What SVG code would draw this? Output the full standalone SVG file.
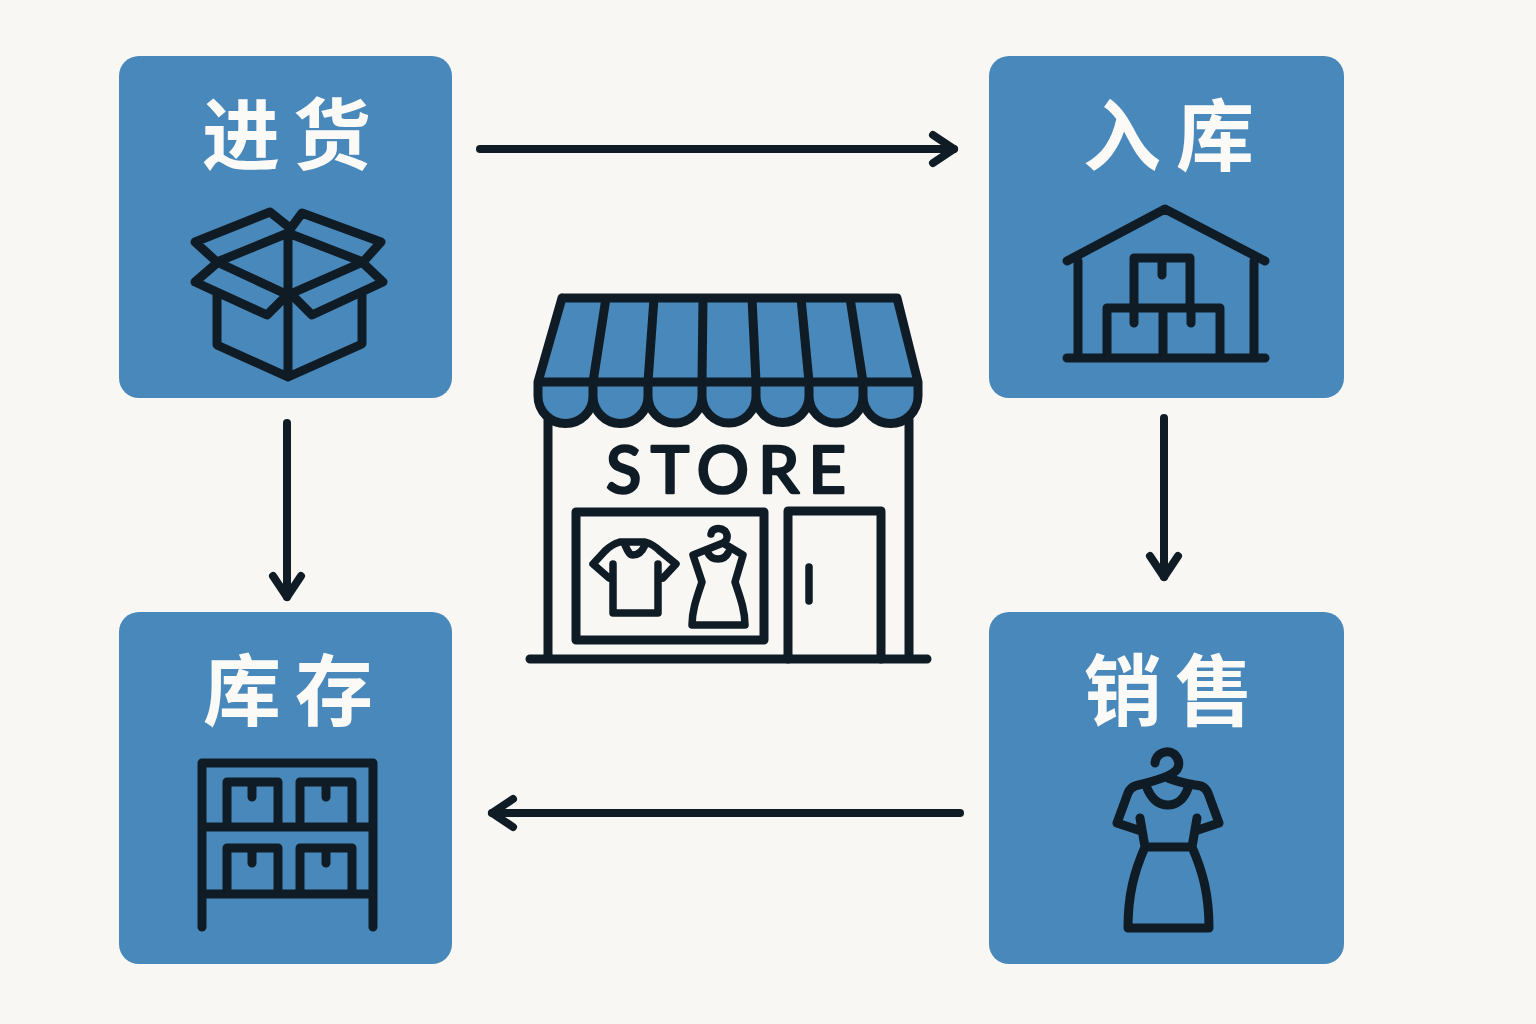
<svg xmlns="http://www.w3.org/2000/svg" width="1536" height="1024" viewBox="0 0 1536 1024">
<style>
.card{fill:#4888ba}
.ln{fill:none;stroke:#0f1c26;stroke-width:9;stroke-linecap:round;stroke-linejoin:round}
.thin{stroke-width:7.500}
.lab{font-family:"Noto Sans CJK SC","Noto Sans",sans-serif;font-weight:700;font-size:78px;fill:#fbfaf7;text-anchor:middle}
.arrow{fill:none;stroke:#0f1c26;stroke-width:8;stroke-linecap:round;marker-end:url(#chev)}
.store{font-family:"Lato","Noto Sans",sans-serif;font-weight:500;font-size:65px;fill:#0f1c26;stroke:#0f1c26;stroke-width:2.500;stroke-linejoin:round}
</style>
<defs>
<marker id="chev" markerUnits="userSpaceOnUse" viewBox="-28 -20 34 40" refX="0" refY="0" markerWidth="34" markerHeight="40" orient="auto">
<path d="M-21 -14L0 0L-21 14" fill="none" stroke="#0f1c26" stroke-width="8" stroke-linecap="round" stroke-linejoin="round"/>
</marker>
</defs>
<rect width="1536" height="1024" fill="#f8f7f3"/>
<g id="connectors">
<path class="arrow" d="M480 149H954"/>
<path class="arrow" d="M1164 418V577"/>
<path class="arrow" d="M960 813H492"/>
<path class="arrow" d="M287 423V597"/>
</g>
<g id="node-jinhuo">
<rect class="card" x="119" y="56" width="333" height="342" rx="20"/>
<text class="lab" x="241" y="164">进</text>
<text class="lab" x="332" y="164">货</text>
<path class="ln" d="M217 294V345L288 377L362 344V294M288 233V377M288 233L217 262L288 295L363 262ZM217 262L195 242L270 212L290 228M291 228L302 213L381 242L363 262M217 263L195 282L267 315L287 295M292 295L312 315L383 282L363 263"/>
</g>
<g id="node-ruku">
<rect class="card" x="989" y="56" width="355" height="342" rx="20"/>
<text class="lab" x="1122" y="165">入</text>
<text class="lab" x="1215" y="165">库</text>
<path class="ln" d="M1067 261L1165 209L1265 261M1078 261V357M1254 261V357M1067 358H1265M1134 308V258H1190V308M1107 358V308H1220V358M1163 308V358M1162 258V275M1134 308V323M1191 308V323"/>
</g>
<g id="node-kucun">
<rect class="card" x="119" y="612" width="333" height="352" rx="20"/>
<text class="lab" x="242" y="720">库</text>
<text class="lab" x="334" y="720">存</text>
<path class="ln" d="M202 927V763H373V927M202 827H373M202 894H373M227 827V782H278V827M300 827V782H352V827M227 894V848H278V894M300 894V848H352V894M252 782V797M326 782V797M252 848V863M326 848V863"/>
</g>
<g id="node-xiaoshou">
<rect class="card" x="989" y="612" width="355" height="352" rx="20"/>
<text class="lab" x="1123" y="720">销</text>
<text class="lab" x="1214" y="720">售</text>
<path class="ln" d="M1155 763C1156 753 1167 749 1174 754C1181 760 1180 769 1173 773C1160 781 1147 782 1135 786Q1130 788 1128 793L1117 823L1138 830M1168 778C1180 783 1190 784 1201 786Q1206 788 1208 793L1219 823L1198 830M1140 818L1145 847H1192L1197 818M1145 847C1134 872 1128 895 1128 928H1209C1209 895 1203 872 1192 847M1147 788C1152 800 1160 805 1168 805C1176 805 1184 800 1188 788"/>
</g>
<g id="node-store">
<path d="M562 298H897L918 382H538Z" fill="#4888ba"/>
<path d="M538 382V396A27.500 27.500 0 0 0 593 396A27.500 27.500 0 0 0 648 396A27 27 0 0 0 702 396A27 27 0 0 0 756 396A26.500 26.500 0 0 0 809 396A27 27 0 0 0 863 396A27.500 27.500 0 0 0 918 396V382Z" fill="#4888ba"/>
<path class="ln" d="M562 298H897L918 382V396M562 298L538 382V396M538 382H918M606 298L593 382V396M654 298L648 382V396M703 298L702 382V396M752 298L756 382V396M801 298L809 382V396M850 298L863 382V396M538 396A27.500 27.500 0 0 0 593 396A27.500 27.500 0 0 0 648 396A27 27 0 0 0 702 396A27 27 0 0 0 756 396A26.500 26.500 0 0 0 809 396A27 27 0 0 0 863 396A27.500 27.500 0 0 0 918 396"/>
<path class="ln" d="M548 420V659M909 420V659M530 659H927"/>
<text class="store" x="606" y="493" textLength="240" lengthAdjust="spacing">STORE</text>
<rect class="ln" x="576" y="512" width="188" height="128"/>
<path class="ln" d="M788 659V511H881V659"/>
<path class="ln thin" d="M809 567V601"/>
<path class="ln thin" d="M620 542H645C652 544 657 548 660 551L676 564L663 578M658 564V613H613V564M620 542C613 544 608 548 605 551L593 564L609 578M625 545C628 552 630 555 633 555C638 555 642 552 645 545"/>
<path class="ln thin" d="M711 534C712 528 720 527 725 531C729 536 727 541 723 543L693 555L702 582C697 597 692 610 692 625H745C745 610 740 597 735 582L743 555L723 543M708 553C712 561 724 561 728 553"/>
</g>
</svg>
